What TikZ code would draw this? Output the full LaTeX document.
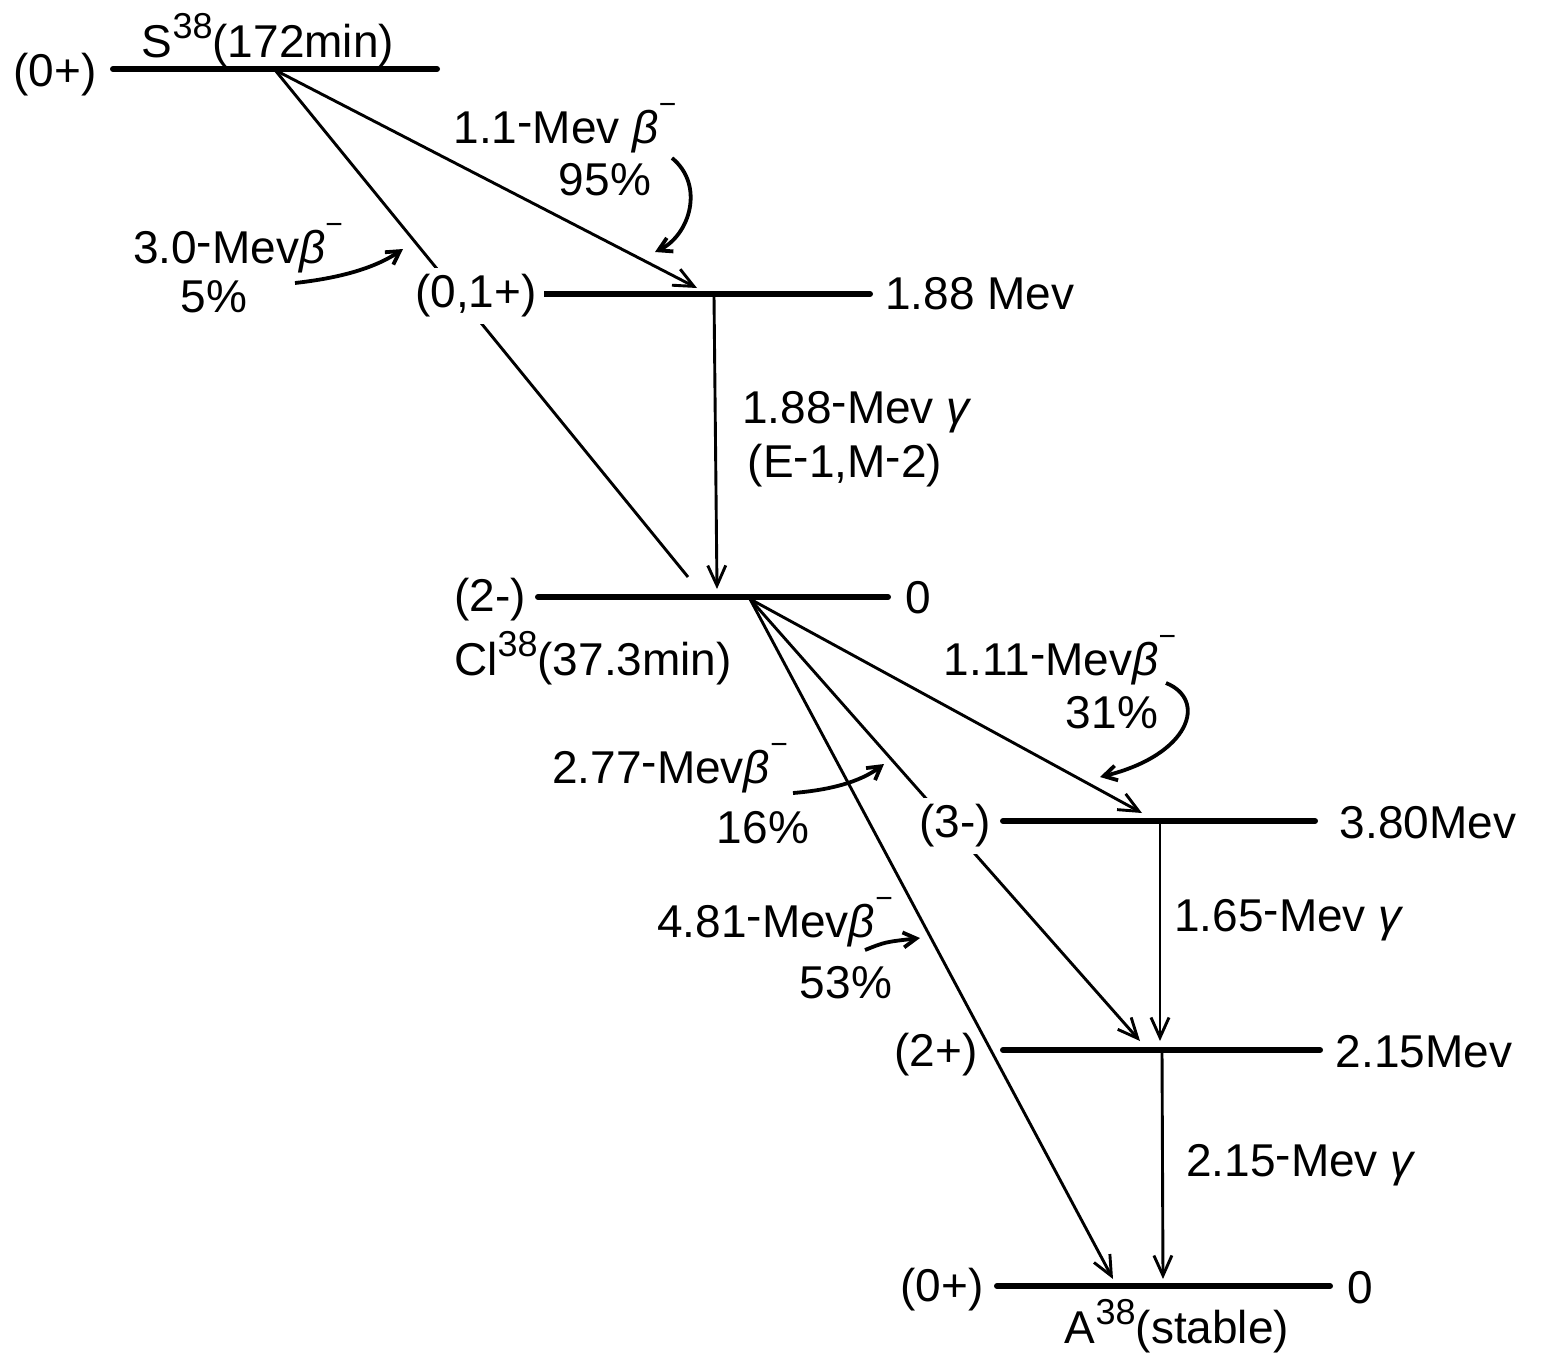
\documentclass[tikz,border=0pt]{standalone}
\usepackage{fontspec}
\setmainfont{Liberation Sans}
\usetikzlibrary{arrows.meta}
\newcommand{\hy}{\raisebox{0.12em}{-}}
\newcommand{\supn}[1]{\raisebox{0.42em}{\fontsize{36}{36}\selectfont #1}}
\newcommand{\bmin}{{\itshape β}\raisebox{0.62em}{\fontsize{30}{30}\selectfont −}}
\newcommand{\gam}{{\itshape γ}}
\begin{document}
\begin{tikzpicture}[x=1pt,y=-1pt,
  level/.style={line width=6pt, line cap=round},
  trans/.style={line width=2.9pt},
  tarrow/.style={trans, -{Straight Barb[length=20pt,width=18pt]}},
  note/.style={line width=3.8pt, -{Straight Barb[length=13pt,width=15pt]}},
  lab/.style={font=\fontsize{46}{50}\selectfont, inner sep=0pt},
  blank/.style={lab, fill=white, inner sep=7pt}]
\useasboundingbox[fill=white] (0,0) rectangle (1544,1358);

% level end points
\coordinate (sL) at (113,69);   \coordinate (sR) at (437,69);
\coordinate (aL) at (538,294);  \coordinate (aR) at (870,294);
\coordinate (cL) at (538,597);  \coordinate (cR) at (888,597);
\coordinate (dL) at (1003,821); \coordinate (dR) at (1315,821);
\coordinate (eL) at (1003,1050);\coordinate (eR) at (1320,1050);
\coordinate (fL) at (997,1286); \coordinate (fR) at (1330,1286);

% transition points
\coordinate (sO) at (275,70);
\coordinate (aIn) at (697,288);
\coordinate (cEnd) at (688,577);
\coordinate (aO) at (714,296);
\coordinate (cIn) at (717,589);
\coordinate (cO) at (750,599);
\coordinate (dIn) at (1142,813);
\coordinate (eIn) at (1140,1041);
\coordinate (fIn) at (1113,1279);
\coordinate (dO) at (1160,822);
\coordinate (eIn2) at (1160,1041);
\coordinate (eO) at (1162,1051);
\coordinate (fIn2) at (1163,1279);

% transitions
\draw[tarrow] (sO) -- (aIn);
\draw[trans] (sO) -- (cEnd);
\draw[tarrow] (aO) -- (cIn);
\draw[tarrow] (cO) -- (dIn);
\draw[tarrow] (cO) -- (eIn);
\draw[tarrow] (cO) -- (fIn);
\draw[tarrow] (dO) -- (eIn2);
\draw[tarrow] (eO) -- (fIn2);

% levels
\draw[level] (sL) -- (sR);
\draw[level] (aL) -- (aR);
\draw[level] (cL) -- (cR);
\draw[level] (dL) -- (dR);
\draw[level] (eL) -- (eR);
\draw[level] (fL) -- (fR);

% level labels
\node[lab] (jS) at (55,75) {(0+)};
\node[lab] (nS) at (268,40) {S\supn{38}(172min)};
\node[blank] (jA) at (476,296) {(0,1+)};
\node[lab] (eA) at (980,294) {1.88 Mev};
\node[lab] (jC) at (490,600) {(2-)};
\node[lab] (eC) at (918,598) {0};
\node[lab] (nC) at (593,658) {Cl\supn{38}(37.3min)};
\node[blank] (jD) at (955,826) {(3-)};
\node[lab] (eD) at (1428,823) {3.80Mev};
\node[lab] (jE) at (936,1055) {(2+)};
\node[lab] (eE) at (1424,1052) {2.15Mev};
\node[lab] (jF) at (942,1290) {(0+)};
\node[lab] (eF) at (1360,1288) {0};
\node[lab] (nF) at (1177,1326) {A\supn{38}(stable)};

% transition labels
\node[lab] (t1) at (565,128) {1.1\hy Mev \bmin};
\node[lab] (p1) at (605,180) {95\%};
\node[lab] (t2) at (238,248) {3.0\hy Mev\bmin};
\node[lab] (p2) at (214,297) {5\%};
\node[lab] (g1) at (856,412) {1.88\hy Mev \gam};
\node[lab] (g1b) at (845,466) {(E\hy 1,M\hy 2)};
\node[lab] (t3) at (1060,660) {1.11\hy Mev\bmin};
\node[lab] (p3) at (1112,713) {31\%};
\node[lab] (t4) at (670,768) {2.77\hy Mev\bmin};
\node[lab] (p4) at (763,828) {16\%};
\node[lab] (t5) at (775,922) {4.81\hy Mev\bmin};
\node[lab] (p5) at (846,983) {53\%};
\node[lab] (g2) at (1288,920) {1.65\hy Mev \gam};
\node[lab] (g3) at (1300,1165) {2.15\hy Mev \gam};

% pointer arrows
\coordinate (q1a) at (672,158); \coordinate (q1b) at (655,252);
\draw[note] (q1a) .. controls (705,185) and (690,235) .. (q1b);
\coordinate (q2a) at (295,283); \coordinate (q2b) at (403,249);
\draw[note] (q2a) .. controls (340,278) and (375,268) .. (q2b);
\coordinate (q3a) at (1166,683); \coordinate (q3b) at (1100,777);
\draw[note] (q3a) .. controls (1208,700) and (1190,755) .. (q3b);
\coordinate (q4a) at (793,793); \coordinate (q4b) at (884,764);
\draw[note] (q4a) .. controls (830,790) and (860,782) .. (q4b);
\coordinate (q5a) at (865,950); \coordinate (q5b) at (920,938);
\draw[note] (q5a) .. controls (885,942) .. (q5b);
\end{tikzpicture}
\end{document}
